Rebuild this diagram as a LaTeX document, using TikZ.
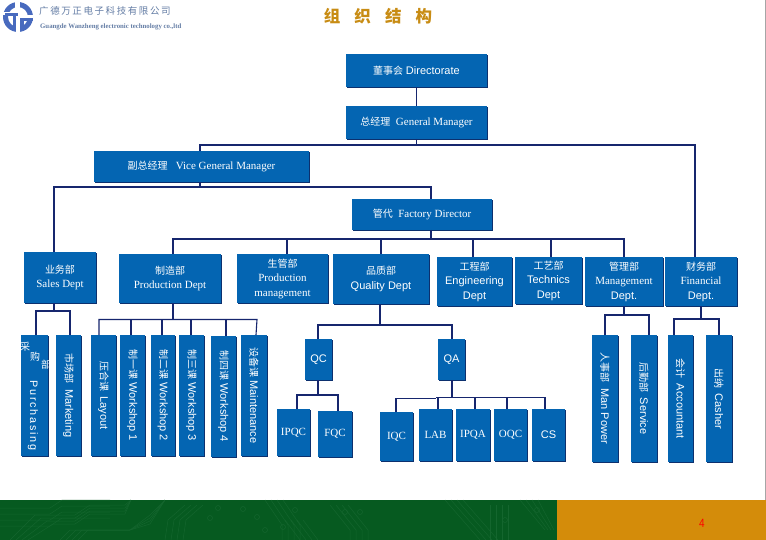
\documentclass[tikz,border=0pt]{standalone}
\usepackage{fontspec}
\setmainfont{Liberation Serif}
\newfontfamily\cjk{Noto Sans CJK SC}
\newfontfamily\arl{Liberation Sans}
\definecolor{boxblue}{RGB}{4,101,178}
\definecolor{boxedge}{RGB}{12,48,110}
\definecolor{linknavy}{RGB}{22,38,110}
\definecolor{footgreen}{RGB}{6,90,32}
\definecolor{traceg}{RGB}{20,102,46}
\definecolor{footorange}{RGB}{212,140,10}
\definecolor{logoblue}{RGB}{72,106,190}
\definecolor{logotxt}{RGB}{100,125,165}
\definecolor{titlegold}{RGB}{200,140,20}
\tikzset{x=1pt,y=-1pt,
 link/.style={draw=linknavy,line width=1.1pt},
 trace/.style={draw=traceg,line width=.5pt},
 boxlabel/.style={text=white,align=center,inner sep=0pt,font=\fontsize{11}{14.5}\selectfont}}
\newcommand{\orgnode}[7][0]{%
 \fill[boxedge] (#3+1.2,#4+1.2) rectangle (#5+1.2,#6+1.2);
 \node[fill=boxblue,inner sep=0pt,outer sep=0pt,minimum width={(#5-#3)*1pt},minimum height={(#6-#4)*1pt}] (#2) at ({(#3+#5)/2},{(#4+#6)/2}) {};
 \node[boxlabel,rotate=#1] (#2t) at (#2.center) {#7};
}
\newcommand{\zh}[1]{{\cjk\fontsize{10}{14.5}\selectfont #1}}
\newcommand{\ar}[1]{{\arl #1}}
\begin{document}
\begin{tikzpicture}
\useasboundingbox (0,0) rectangle (766,540);
\fill[white] (0,0) rectangle (766,540);
\draw[gray!70,line width=1pt] (765.5,0) -- (765.5,500);
% footer
\fill[footgreen] (0,500) rectangle (557,540);
\fill[footorange] (557,500) rectangle (766,540);
\foreach \d in {0,6,12,18}{
 \draw[trace] (0,{508+\d}) -- (50,{508+\d}) -- (62,{500+\d}) -- (110,{500+\d});
 \draw[trace] ({10+\d},540) -- ({35+\d},{515+\d/2}) -- (75,{515+\d/2}) -- (90,{505+\d/2}) -- (125,{505+\d/2}) -- (131,500);
 \draw[trace] ({60+\d},540) -- ({70+\d},{530}) -- (130,530) -- (150,{515+\d/2}) -- (165,500);
 \draw[trace] ({165+\d},540) -- ({168+\d},{520}) -- ({185+\d},{505});
 \draw[trace] ({265+\d},500) -- ({282+\d},525) -- ({282+\d},540);
 \draw[trace] ({300+\d},540) -- ({285+\d},520);
 \draw[trace] ({330+\d},505) -- ({350+\d},530) -- ({350+\d},540);
 \draw[trace] ({445+\d},500) -- ({480+\d},540);
 \draw[trace] ({490+\d},505) -- ({490+\d},540);
 \draw[trace] ({520+\d},500) -- ({545+\d/2},530);
}
\foreach \p in {(218,508),(243,509),(210,518),(257,517),(265,530),(283,527),(295,510),(345,512),(360,512),(537,510),(505,520)}{\draw[trace] \p circle (2.5);}
\node[text=red,font=\arl\fontsize{10}{10}\selectfont,yscale=1.2] (pg) at (702,523) {4};
% logo
\fill[logoblue,even odd rule] (18,17) circle (15) (18,17) circle (10);
\fill[white] (3,12) rectangle (15,15);
\fill[white] (15,2) rectangle (20,12);
\fill[logoblue] (5,13) rectangle (18,16.5);
\fill[logoblue] (12.5,13) rectangle (16,31);
\fill[white] (16,16) rectangle (20,32);
\fill[white] (20,15) rectangle (33,18);
\fill[logoblue] (20,18) rectangle (33,21.5);
\fill[logoblue] (20,18) rectangle (23.5,27);
\node[text=logotxt,anchor=west,inner sep=0pt,font=\cjk\fontsize{9.5}{10}\selectfont] (lg1) at (39,11) {广\,德\,万\,正\,电\,子\,科\,技\,有\,限\,公\,司};
\node[text=logotxt,anchor=west,inner sep=0pt,font=\fontsize{6.8}{7}\bfseries\selectfont] (lg2) at (40,26.5) {Guangde Wanzheng electronic technology co.,ltd};
\node[text=titlegold,font=\cjk\bfseries\fontsize{16.5}{17}\selectfont] (ttl) at (378,16) {组\hspace{.85em}织\hspace{.85em}结\hspace{.85em}构};
% boxes
\orgnode{dir}{346}{54}{487}{87}{\zh{董事会}\ \ar{Directorate}}
\orgnode{gm}{346}{106}{487}{139}{\zh{总经理}\ \ General Manager}
\orgnode{vgm}{94}{151}{309}{182}{\zh{副总经理}\ \ \ Vice General Manager}
\orgnode{fd}{352}{199}{492}{230}{\zh{管代}\ \ Factory Director}
\orgnode{sales}{24}{252}{96}{303}{\zh{业务部}\\Sales Dept}
\orgnode{prod}{119}{254}{221}{303}{\zh{制造部}\\Production Dept}
\orgnode{pm}{237}{254}{328}{303}{\zh{生管部}\\Production\\management}
\orgnode{qual}{333}{254}{429}{304}{\zh{品质部}\\\ar{Quality Dept}}
\orgnode{eng}{437}{257}{512}{306}{\zh{工程部}\\\ar{Engineering}\\\ar{Dept}}
\orgnode{tech}{515}{257}{582}{304}{\zh{工艺部}\\\ar{Technics}\\\ar{Dept}}
\orgnode{mgmt}{585}{257}{663}{306}{\zh{管理部}\\Management\\\ar{Dept.}}
\orgnode{fin}{665}{257}{737}{306}{\zh{财务部}\\Financial\\\ar{Dept.}}
\orgnode[-90]{pur}{21}{335}{48}{456}{}
\orgnode[-90]{mkt}{56}{335}{81}{456}{\zh{市场部}\ \ \ar{Marketing}}
\orgnode[-90]{lay}{91}{335}{116}{456}{\zh{压合课}\ \ \ar{Layout}}
\orgnode[-90]{wa}{120}{335}{145}{456}{\zh{制一课}\ \ar{Workshop 1}}
\orgnode[-90]{wb}{151}{335}{175}{456}{\zh{制二课}\ \ar{Workshop 2}}
\orgnode[-90]{wc}{179}{335}{204}{456}{\zh{制三课}\ \ar{Workshop 3}}
\orgnode[-90]{wd}{211}{336}{236}{457}{\zh{制四课}\ \ar{Workshop 4}}
\orgnode[-90]{mnt}{241}{335}{267}{456}{\zh{设备课}\ \ar{Maintenance}}
\orgnode{qc}{305}{339}{332}{380}{\ar{QC}}
\orgnode{qa}{438}{339}{465}{380}{\ar{QA}}
\orgnode{ipqc}{277}{409}{310}{456}{IPQC}
\orgnode{fqc}{318}{411}{352}{457}{FQC}
\orgnode{iqc}{380}{412}{413}{461}{IQC}
\orgnode{lab}{419}{409}{452}{461}{LAB}
\orgnode{ipqa}{456}{409}{490}{461}{IPQA}
\orgnode{oqc}{494}{409}{527}{461}{OQC}
\orgnode{cs}{532}{409}{565}{461}{\ar{CS}}
\orgnode[-90]{man}{592}{335}{618}{462}{\zh{人事部}\ \ \ar{Man Power}}
\orgnode[-90]{svc}{631}{335}{657}{462}{\zh{后勤部}\ \ \ar{Service}}
\orgnode[-90]{acc}{668}{335}{693}{462}{\zh{会计}\ \ \ar{Accountant}}
\orgnode[-90]{cas}{706}{335}{732}{462}{\zh{出纳}\ \ \ar{Casher}}
\node[text=white,inner sep=0pt,font=\cjk\fontsize{10}{10}\selectfont] (ca) at (25,347) {采};
\node[text=white,inner sep=0pt,font=\cjk\fontsize{10}{10}\selectfont] (cb) at (35,357) {购};
\node[text=white,inner sep=0pt,font=\cjk\fontsize{10}{10}\selectfont] (cc) at (46,365) {部};
\node[text=white,inner sep=0pt,anchor=west,rotate=-90,font=\arl\fontsize{10.8}{10}\selectfont] (cd) at (33,380) {P\,u\,r\,c\,h\,a\,s\,i\,n\,g};
% connectors
\coordinate (tl) at (200,145);
\coordinate (tr) at (695,145);
\coordinate (ml) at (54,187);
\coordinate (mr) at (431,187);
\coordinate (bl) at (173,239);
\coordinate (br) at (624,239);
\draw[link] (dir.south) -- (gm.north);
\draw[link] (gm.south) -- (gm.south |- tl);
\draw[link] (vgm.north -| tl) -- (tl) -- (tr) -- (fin.north -| tr);
\draw[link] (vgm.south -| tl) -- (tl |- ml);
\draw[link] (sales.north -| ml) -- (ml) -- (mr) -- (fd.north -| mr);
\draw[link] (fd.south -| mr) -- (mr |- bl);
\draw[link] (prod.north -| bl) -- (bl) -- (br) -- (mgmt.north -| br);
\draw[link] (pm.north -| 287,0) -- (287,239);
\draw[link] (qual.north -| 381,0) -- (381,239);
\draw[link] (eng.north -| 473,0) -- (473,239);
\draw[link] (tech.north -| 551,0) -- (551,239);
\draw[link] (sales.south -| ml) -- (54,311);
\draw[link] (pur.north -| 36,0) -- (36,311) -- (70,311) -- (mkt.north -| 70,0);
\draw[link] (prod.south -| bl) -- (173,319.5);
\draw[link] (lay.north -| 99,0) -- (99,319.5) -- (257,319.5) -- (mnt.north -| 256,0);
\draw[link] (wa.north -| 131,0) -- (131,319.5);
\draw[link] (wb.north -| 162,0) -- (162,319.5);
\draw[link] (wc.north -| 191,0) -- (191,319.5);
\draw[link] (wd.north -| 226,0) -- (226,319.5);
\draw[link] (qual.south -| 380,0) -- (380,325);
\draw[link] (qc.north -| 318,0) -- (318,325) -- (452,325) -- (qa.north -| 452,0);
\draw[link] (qc.south -| 318,0) -- (318,395);
\draw[link] (ipqc.north -| 297,0) -- (297,395) -- (338,395) -- (fqc.north -| 338,0);
\draw[link] (qa.south -| 452,0) -- (452,398);
\draw[link] (iqc.north -| 396,0) -- (396,398.5) -- (436,398.5);
\draw[link] (436,397.5) -- (545,397.5) -- (cs.north -| 545,0);
\draw[link] (lab.north -| 438,0) -- (438,397.5);
\draw[link] (ipqa.north -| 475,0) -- (475,397.5);
\draw[link] (oqc.north -| 507,0) -- (507,397.5);
\draw[link] (mgmt.south -| br) -- (624,315);
\draw[link] (man.north -| 605,0) -- (605,315) -- (649,315) -- (svc.north -| 649,0);
\draw[link] (fin.south -| 701,0) -- (701,319);
\draw[link] (acc.north -| 674,0) -- (674,319) -- (719,319) -- (cas.north -| 719,0);
\end{tikzpicture}
\end{document}
